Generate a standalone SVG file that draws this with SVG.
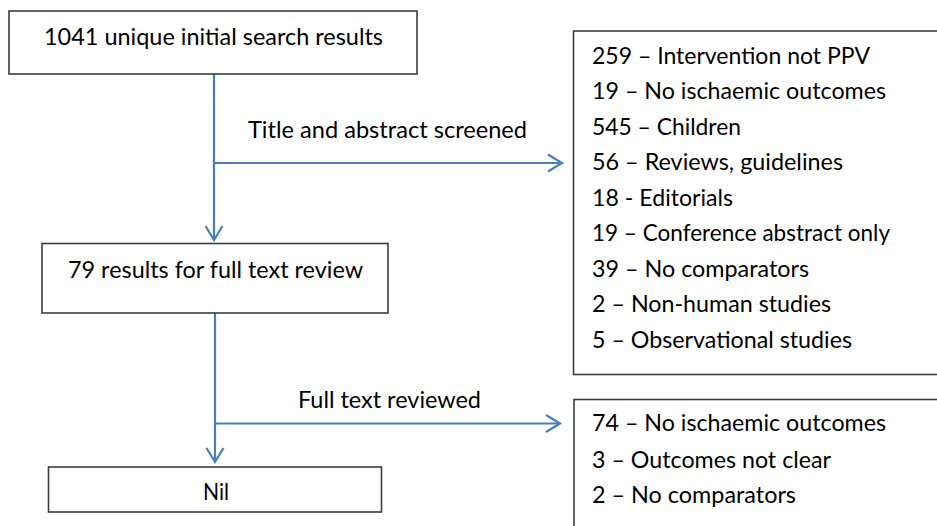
<svg xmlns="http://www.w3.org/2000/svg" width="937" height="526" viewBox="0 0 937 526">
<style>
.box{fill:#fff;stroke:#3c3c3c;stroke-width:1.6}
.t{font-family:Lato,"Open Sans","Liberation Sans",sans-serif;font-size:24px;fill:#000}
.c{fill:none;stroke:#4a7ebb;stroke-width:2.2}
</style>
<defs>
<marker id="ah" markerUnits="userSpaceOnUse" markerWidth="20" markerHeight="20" viewBox="-16 -10 18 20" refX="0" refY="0" orient="auto">
<path d="M-14,-8.5 L0,0 L-14,8.5" fill="none" stroke="#4a7ebb" stroke-width="2.2"/>
</marker>
</defs>
<rect width="937" height="526" fill="#fff"/>
<g id="connectors">
<path class="c" d="M214,74 V240" marker-end="url(#ah)"/>
<path class="c" d="M214,163 H562" marker-end="url(#ah)"/>
<path class="c" d="M215,313 V462" marker-end="url(#ah)"/>
<path class="c" d="M215,423.5 H560" marker-end="url(#ah)"/>
<text class="t" x="248" y="138" textLength="279" lengthAdjust="spacingAndGlyphs">Title and abstract screened</text>
<text class="t" x="298" y="408" textLength="183" lengthAdjust="spacingAndGlyphs">Full text reviewed</text>
</g>
<g id="search">
<rect class="box" x="9" y="11" width="408" height="63"/>
<text class="t" x="44" y="45" textLength="339" lengthAdjust="spacingAndGlyphs">1041 unique initial search results</text>
</g>
<g id="fulltext">
<rect class="box" x="42" y="243.5" width="346" height="69.5"/>
<text class="t" x="68" y="278" textLength="295" lengthAdjust="spacingAndGlyphs">79 results for full text review</text>
</g>
<g id="nil">
<rect class="box" x="48.5" y="467" width="333" height="45"/>
<text class="t" x="203" y="500" textLength="26" lengthAdjust="spacingAndGlyphs">Nil</text>
</g>
<g id="excluded1">
<rect class="box" x="573.5" y="31" width="370" height="343.5"/>
<text class="t" x="592" y="63.5" textLength="278" lengthAdjust="spacingAndGlyphs">259 – Intervention not PPV</text>
<text class="t" x="592" y="99" textLength="294" lengthAdjust="spacingAndGlyphs">19 – No ischaemic outcomes</text>
<text class="t" x="592" y="134.5" textLength="149" lengthAdjust="spacingAndGlyphs">545 – Children</text>
<text class="t" x="592" y="170" textLength="251" lengthAdjust="spacingAndGlyphs">56 – Reviews, guidelines</text>
<text class="t" x="592" y="205.5" textLength="141" lengthAdjust="spacingAndGlyphs">18 - Editorials</text>
<text class="t" x="592" y="241" textLength="298" lengthAdjust="spacingAndGlyphs">19 – Conference abstract only</text>
<text class="t" x="592" y="276.5" textLength="217" lengthAdjust="spacingAndGlyphs">39 – No comparators</text>
<text class="t" x="592" y="312" textLength="239" lengthAdjust="spacingAndGlyphs">2 – Non-human studies</text>
<text class="t" x="592" y="347.5" textLength="260" lengthAdjust="spacingAndGlyphs">5 – Observational studies</text>
</g>
<g id="excluded2">
<rect class="box" x="574" y="399.5" width="370" height="140"/>
<text class="t" x="592" y="431" textLength="294" lengthAdjust="spacingAndGlyphs">74 – No ischaemic outcomes</text>
<text class="t" x="592" y="467.5" textLength="239" lengthAdjust="spacingAndGlyphs">3 – Outcomes not clear</text>
<text class="t" x="592" y="503" textLength="204" lengthAdjust="spacingAndGlyphs">2 – No comparators</text>
</g>
</svg>
